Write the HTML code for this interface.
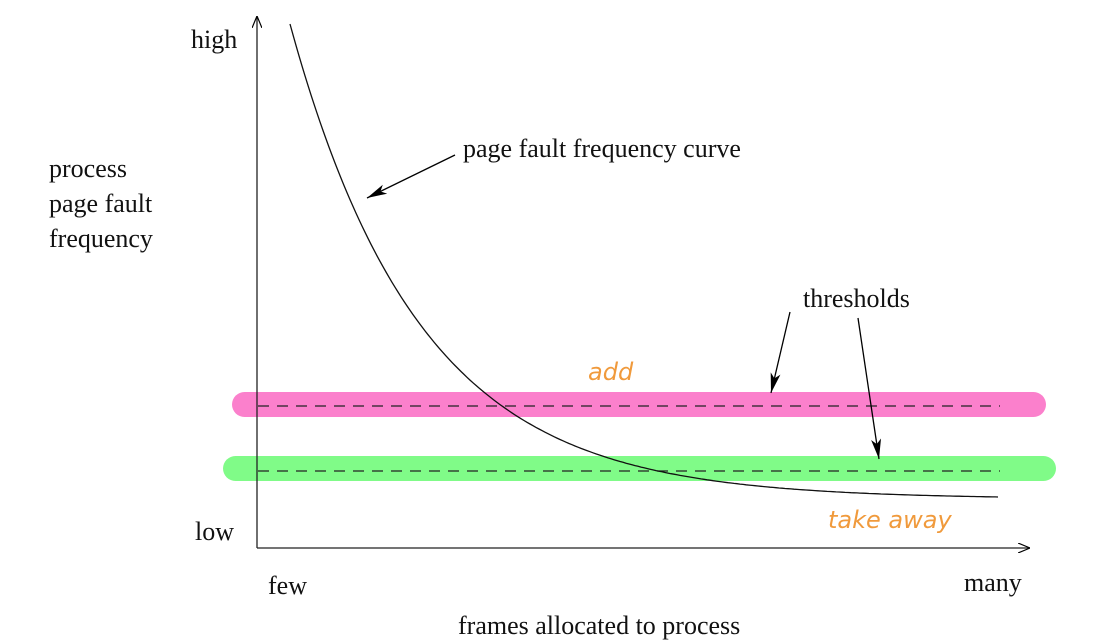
<!DOCTYPE html>
<html><head><meta charset="utf-8"><style>
html,body{margin:0;padding:0;background:#fff;}
svg{display:block;}
text{font-family:"Liberation Serif",serif;font-size:26px;fill:#111;}
.h{font-family:"DejaVu Sans",cursive;font-style:italic;font-size:24px;fill:#f09a3c;}
</style></head><body>
<svg width="1112" height="640" viewBox="0 0 1112 640" xmlns="http://www.w3.org/2000/svg">
<defs>
<marker id="a" viewBox="0 0 20 10" refX="20" refY="5" markerWidth="20" markerHeight="10" markerUnits="userSpaceOnUse" orient="auto"><path d="M0,0 L20,5 L0,10 L5,5 z" fill="#000"/></marker>
<marker id="o" viewBox="0 0 12 10" refX="12" refY="5" markerWidth="12" markerHeight="10" markerUnits="userSpaceOnUse" orient="auto"><path d="M0,0 L12,5 L0,10" fill="none" stroke="#000" stroke-width="1.2"/></marker>
</defs>
<rect x="232" y="392" width="814" height="25" rx="12.5" fill="#fb80cc"/>
<rect x="223" y="456" width="833" height="25" rx="12.5" fill="#80fb88"/>
<line x1="258" y1="406" x2="1000" y2="406" stroke="#222" stroke-width="1.3" stroke-dasharray="11,8"/>
<line x1="258" y1="471" x2="1000" y2="471" stroke="#222" stroke-width="1.3" stroke-dasharray="11,8"/>
<line x1="257" y1="548" x2="257" y2="16" stroke="#222" stroke-width="1.3" marker-end="url(#o)"/>
<line x1="257" y1="548" x2="1030" y2="548" stroke="#222" stroke-width="1.3" marker-end="url(#o)"/>
<path id="c" fill="none" stroke="#111" stroke-width="1.3"/>
<line x1="455" y1="155" x2="367" y2="198" stroke="#000" stroke-width="1.3" marker-end="url(#a)"/>
<line x1="790" y1="312" x2="771" y2="393" stroke="#000" stroke-width="1.3" marker-end="url(#a)"/>
<line x1="858" y1="318" x2="879" y2="459" stroke="#000" stroke-width="1.3" marker-end="url(#a)"/>
<text x="191" y="48">high</text>
<text x="49" y="177">process</text>
<text x="49" y="212">page fault</text>
<text x="49" y="247">frequency</text>
<text x="463" y="157">page fault frequency curve</text>
<text x="803" y="307">thresholds</text>
<text x="195" y="540">low</text>
<text x="268" y="594">few</text>
<text x="964" y="591">many</text>
<text x="458" y="634">frames allocated to process</text>
<text class="h" x="588" y="380">add</text>
<text class="h" x="828" y="528">take away</text>
</svg>
<script>
var d="";for(var x=290;x<=1000;x+=3){var y=499-475*Math.exp(-(x-290)/130);d+=(x==290?"M":"L")+x+","+y.toFixed(1)+" ";}
document.getElementById("c").setAttribute("d",d);
</script>
</body></html>
